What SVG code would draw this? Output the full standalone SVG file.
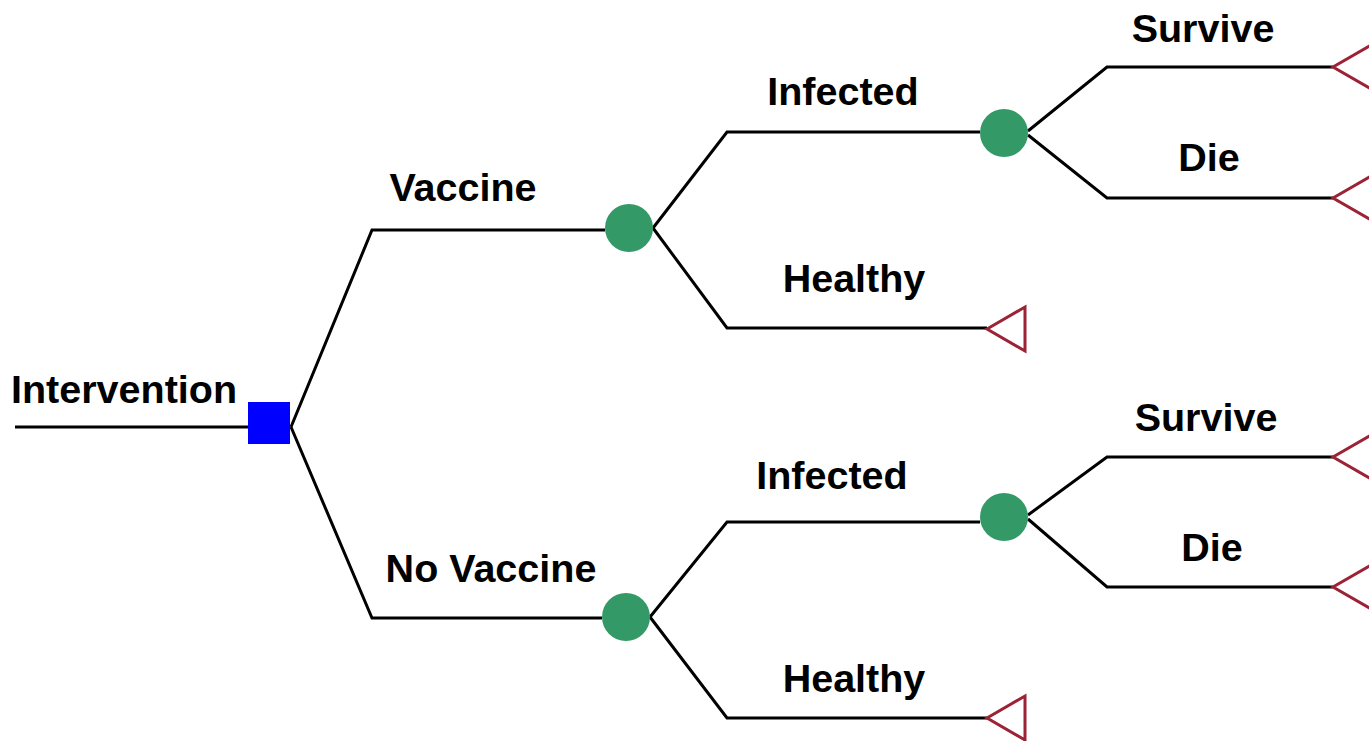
<svg xmlns="http://www.w3.org/2000/svg" width="1369" height="741" viewBox="0 0 1369 741">
<style>
.l{fill:none;stroke:#000;stroke-width:3}
.t{fill:#fff;stroke:#9b2335;stroke-width:3;stroke-linejoin:miter}
.c{fill:#339966}
.d{fill:#0000ff}
text{font-family:"Liberation Sans",Arial,sans-serif;font-weight:bold;font-size:39.5px;fill:#000;text-anchor:middle}
</style>
<rect width="1369" height="741" fill="#fff"/>
<g id="connectors">
<path class="l" d="M15 427H248"/>
<path class="l" d="M291 427L372 230H605"/>
<path class="l" d="M291 427L372 618H602"/>
<path class="l" d="M653 228L727 132H980"/>
<path class="l" d="M653 228L727 328H987"/>
<path class="l" d="M650 617L727 522H980"/>
<path class="l" d="M650 617L727 718H987"/>
<path class="l" d="M1028 131L1107 67H1333"/>
<path class="l" d="M1028 135L1107 198H1333"/>
<path class="l" d="M1028 515L1107 457H1333"/>
<path class="l" d="M1028 519L1107 587H1333"/>
</g>
<g id="intervention"><text x="124" y="403">Intervention</text><rect class="d" x="248" y="402" width="42" height="42"/></g>
<g id="vaccine"><text x="463" y="201">Vaccine</text><circle class="c" cx="629" cy="228" r="24"/></g>
<g id="novaccine"><text x="491" y="582">No Vaccine</text><circle class="c" cx="626" cy="617" r="24"/></g>
<g id="infected1"><text x="843" y="105">Infected</text><circle class="c" cx="1004" cy="133" r="24"/></g>
<g id="infected2"><text x="832" y="489">Infected</text><circle class="c" cx="1004" cy="517" r="24"/></g>
<g id="healthy1"><text x="854" y="292">Healthy</text><path class="t" d="M987 329L1025 307V351Z"/></g>
<g id="healthy2"><text x="854" y="692">Healthy</text><path class="t" d="M987 718L1025 696V740Z"/></g>
<g id="survive1"><text x="1203" y="42">Survive</text><path class="t" d="M1333 67L1371 45V89Z"/></g>
<g id="die1"><text x="1209" y="171">Die</text><path class="t" d="M1333 198L1371 176V220Z"/></g>
<g id="survive2"><text x="1206" y="431">Survive</text><path class="t" d="M1333 457L1371 435V479Z"/></g>
<g id="die2"><text x="1212" y="561">Die</text><path class="t" d="M1333 587L1371 565V609Z"/></g>
</svg>
